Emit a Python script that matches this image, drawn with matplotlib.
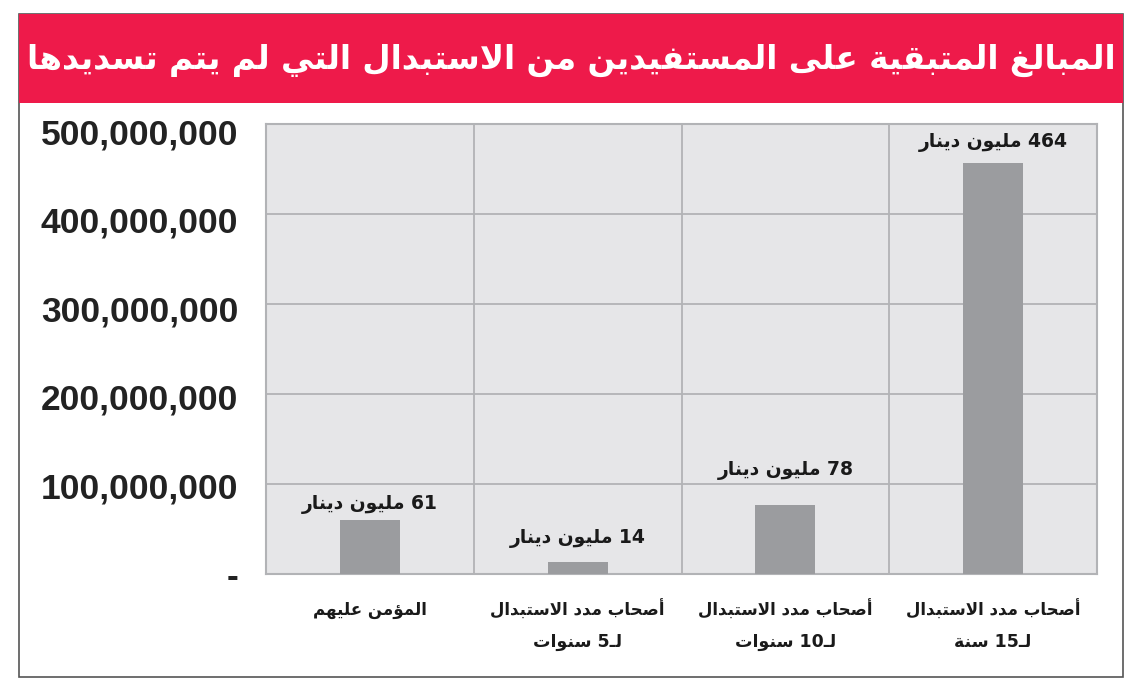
import re
import numpy as np
import matplotlib
matplotlib.use("Agg")
import matplotlib.pyplot as plt
from matplotlib.patches import Rectangle

# ---------------- data ----------------
title = "المبالغ المتبقية على المستفيدين من الاستبدال التي لم يتم تسديدها"
cat_line1 = ["المؤمن عليهم", "أصحاب مدد الاستبدال", "أصحاب مدد الاستبدال", "أصحاب مدد الاستبدال"]
cat_line2 = ["", "لـ5 سنوات", "لـ10 سنوات", "لـ15 سنة"]
values_million = [61, 14, 78, 464]
value_labels = ["61 مليون دينار", "14 مليون دينار", "78 مليون دينار", "464 مليون دينار"]
ytick_values = [0, 100_000_000, 200_000_000, 300_000_000, 400_000_000, 500_000_000]
ytick_labels = ["-", "100,000,000", "200,000,000", "300,000,000", "400,000,000", "500,000,000"]

# label offsets above bar tops (pixels)
label_offsets_px = [15, 23, 34, 20]

# ---------------- Arabic shaping helpers ----------------
_TABLE = [
    ("\u0621", 0xFE80, 1), ("\u0622", 0xFE81, 2), ("\u0623", 0xFE83, 2), ("\u0624", 0xFE85, 2),
    ("\u0625", 0xFE87, 2), ("\u0626", 0xFE89, 4), ("\u0627", 0xFE8D, 2), ("\u0628", 0xFE8F, 4),
    ("\u0629", 0xFE93, 2), ("\u062A", 0xFE95, 4), ("\u062B", 0xFE99, 4), ("\u062C", 0xFE9D, 4),
    ("\u062D", 0xFEA1, 4), ("\u062E", 0xFEA5, 4), ("\u062F", 0xFEA9, 2), ("\u0630", 0xFEAB, 2),
    ("\u0631", 0xFEAD, 2), ("\u0632", 0xFEAF, 2), ("\u0633", 0xFEB1, 4), ("\u0634", 0xFEB5, 4),
    ("\u0635", 0xFEB9, 4), ("\u0636", 0xFEBD, 4), ("\u0637", 0xFEC1, 4), ("\u0638", 0xFEC5, 4),
    ("\u0639", 0xFEC9, 4), ("\u063A", 0xFECD, 4), ("\u0641", 0xFED1, 4), ("\u0642", 0xFED5, 4),
    ("\u0643", 0xFED9, 4), ("\u0644", 0xFEDD, 4), ("\u0645", 0xFEE1, 4), ("\u0646", 0xFEE5, 4),
    ("\u0647", 0xFEE9, 4), ("\u0648", 0xFEED, 2), ("\u0649", 0xFEEF, 2), ("\u064A", 0xFEF1, 4),
]
FORMS = {c: tuple(chr(s + k) for k in range(n)) for c, s, n in _TABLE}
LAM_ALEF = {"\u0622": ("\uFEF5", "\uFEF6"), "\u0623": ("\uFEF7", "\uFEF8"),
            "\u0625": ("\uFEF9", "\uFEFA"), "\u0627": ("\uFEFB", "\uFEFC")}
TATWEEL = "\u0640"


def _jt(t):
    if isinstance(t, tuple):
        return "R"
    if t == TATWEEL:
        return "D"
    if t in FORMS:
        n = len(FORMS[t])
        return "D" if n == 4 else ("R" if n == 2 else "U")
    return "U"


def shape(word):
    toks = []
    i = 0
    while i < len(word):
        c = word[i]
        if c == "\u0644" and i + 1 < len(word) and word[i + 1] in LAM_ALEF:
            toks.append(LAM_ALEF[word[i + 1]])
            i += 2
        else:
            toks.append(c)
            i += 1
    out = []
    n = len(toks)
    for k, t in enumerate(toks):
        jp = k > 0 and _jt(toks[k - 1]) == "D" and _jt(t) in "DR"
        jn = k < n - 1 and _jt(t) == "D" and _jt(toks[k + 1]) in "DR"
        if isinstance(t, tuple):
            out.append(t[1] if jp else t[0])
        elif t in FORMS:
            f = FORMS[t]
            if len(f) == 4:
                idx = 3 if (jp and jn) else 2 if jn else 1 if jp else 0
            elif len(f) == 2:
                idx = 1 if jp else 0
            else:
                idx = 0
            out.append(f[idx])
        else:
            out.append(t)
    return "".join(out)


def visual(line):
    words = line.split(" ")
    vis_words = []
    for w in words:
        runs = re.findall(r"[0-9,]+|[^0-9,]+", w)
        vr = [r if r[0].isdigit() else shape(r)[::-1] for r in runs]
        vis_words.append("".join(reversed(vr)))
    return " ".join(reversed(vis_words))


# ---------------- figure ----------------
W, H = 1132, 689
fig = plt.figure(figsize=(W / 100, H / 100), dpi=100)
fig.patch.set_facecolor("white")

RED = "#EE1A4A"
BG = "#E6E6E8"
GRID = "#B2B3B6"
BAR = "#9B9C9F"
AR_FONT = ["DejaVu Sans"]
TXT = "#1a1a1a"


def px(x, y):
    return x / W, 1 - y / H


# frame and title band
fl, ft, fr, fb = 19, 14, 1123, 677
fig.patches.append(Rectangle(px(fl, fb), (fr - fl) / W, (fb - ft) / H, transform=fig.transFigure,
                             facecolor="none", edgecolor="#555555", linewidth=1.2, zorder=0))
fig.patches.append(Rectangle(px(fl, 103), (fr - fl) / W, (103 - ft) / H, transform=fig.transFigure,
                             facecolor=RED, edgecolor="none", zorder=1))

tt = fig.text(0.5 * (fl + fr) / W, 1 - 60 / H, visual(title), color="white", fontsize=30,
              fontweight="bold", family=AR_FONT, ha="center", va="center", zorder=3)
fig.canvas.draw()
r = fig.canvas.get_renderer()
bw = tt.get_window_extent(r).width
tt.set_fontsize(30 * 1086 / bw)

# axes
al, ar_, at, ab = 266, 1097, 124, 574
ax = fig.add_axes([al / W, 1 - ab / H, (ar_ - al) / W, (ab - at) / H])
ax.set_facecolor(BG)
ymax = 5.08e8
ax.set_ylim(0, ymax)
ax.set_xlim(-0.5, 3.5)

x = np.arange(len(values_million))
vals = np.array(values_million) * 1e6
ax.bar(x, vals, width=0.29, color=BAR, zorder=3)

for g in np.linspace(0, ymax, 6)[1:-1]:
    ax.axhline(g, color=GRID, linewidth=1.3, zorder=1)
for b in x[:-1] + 0.5:
    ax.axvline(b, color=GRID, linewidth=1.3, zorder=1)
for s in ax.spines.values():
    s.set_color(GRID)
    s.set_linewidth(1.5)

ax.set_xticks([])
ax.set_yticks(ytick_values)
ax.set_yticklabels(ytick_labels, fontsize=25.5, fontweight="bold", family="Liberation Sans",
                   color="#222222")
ax.tick_params(axis="y", length=0, pad=20)
for lbl in ax.get_yticklabels():
    lbl.set_y(lbl.get_position()[1])

for xi, v, lab, off in zip(x, vals, value_labels, label_offsets_px):
    ax.annotate(visual(lab), (xi, v), xytext=(0, off * 0.72), textcoords="offset points",
                ha="center", va="center", fontsize=13.5, fontweight="bold", family=AR_FONT,
                color=TXT, zorder=4)

tr = ax.get_xaxis_transform()
for xi, l1, l2 in zip(x, cat_line1, cat_line2):
    ax.text(xi, -(610 - ab) / (ab - at), visual(l1), transform=tr, ha="center", va="center",
            fontsize=12, fontweight="bold", family=AR_FONT, color=TXT)
    if l2:
        ax.text(xi, -(642 - ab) / (ab - at), visual(l2), transform=tr, ha="center", va="center",
                fontsize=12.5, fontweight="bold", family=AR_FONT, color=TXT)

fig.savefig("out.png", dpi=100, facecolor="white")
